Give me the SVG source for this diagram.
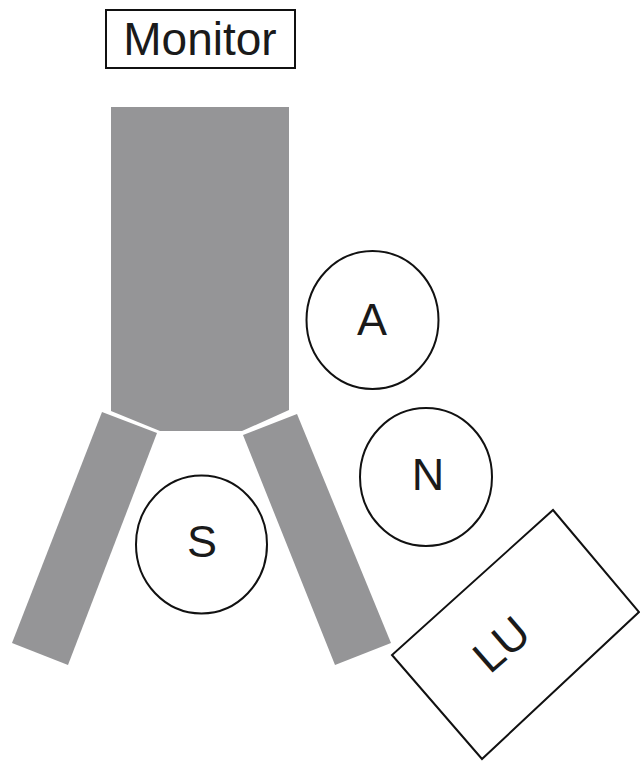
<svg xmlns="http://www.w3.org/2000/svg" width="640" height="762" viewBox="0 0 640 762">
<style>
.lbl{font-family:"Liberation Sans",Arial,sans-serif;font-size:45px;fill:#1a1a1a;text-anchor:middle}
.ln{fill:#fff;stroke:#111;stroke-width:2}
.gray{fill:#959597;stroke:none}
</style>
<rect width="640" height="762" fill="#fff"/>
<g id="monitor">
<rect class="ln" x="106" y="10" width="189" height="58"/>
<text class="lbl" x="200" y="55" style="font-size:46px">Monitor</text>
</g>
<g id="table">
<polygon class="gray" points="111,107 289,107 289,410 242,431 160,431 111,411"/>
</g>
<g id="leftLeg">
<polygon class="gray" points="102,412 157,433 68,665 12,643"/>
</g>
<g id="rightLeg">
<polygon class="gray" points="243,435 297,414 391,643 335,665"/>
</g>
<g id="A">
<ellipse class="ln" cx="372.5" cy="320" rx="66" ry="69"/>
<text class="lbl" x="372" y="335">A</text>
</g>
<g id="N">
<ellipse class="ln" cx="426" cy="477" rx="66" ry="69"/>
<text class="lbl" x="428" y="490">N</text>
</g>
<g id="S">
<ellipse class="ln" cx="201.5" cy="544.5" rx="65.5" ry="69"/>
<text class="lbl" x="202" y="557">S</text>
</g>
<g id="LU">
<polygon class="ln" points="553,510 639,612 482,759 392,655"/>
<text class="lbl" transform="translate(501,644) rotate(-41)" x="0" y="16">LU</text>
</g>
<g id="connectors"></g>
</svg>
